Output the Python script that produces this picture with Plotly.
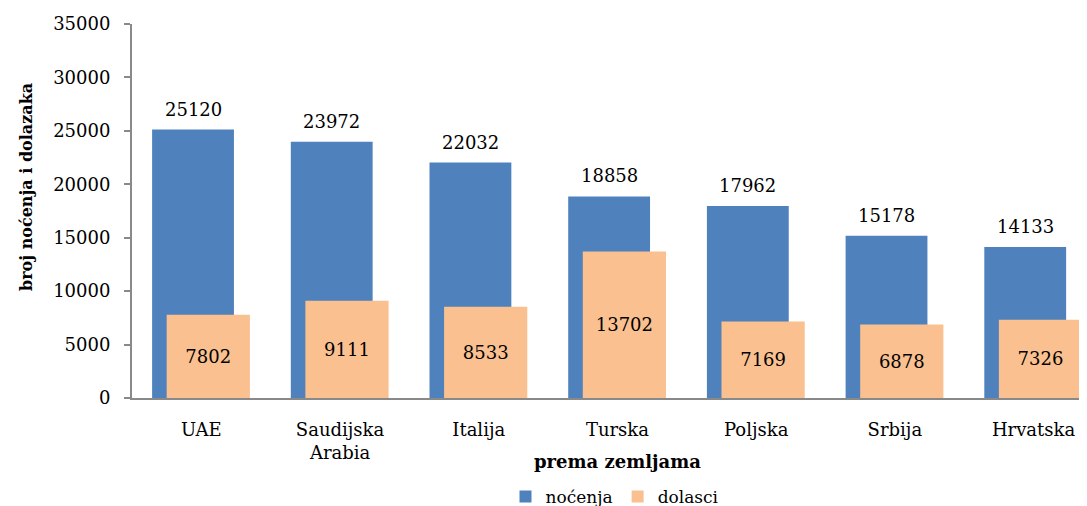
import plotly.graph_objects as go

categories = ["UAE", "Saudijska<br>Arabia", "Italija", "Turska", "Poljska", "Srbija", "Hrvatska"]
nocenja = [25120, 23972, 22032, 18858, 17962, 15178, 14133]
dolasci = [7802, 9111, 8533, 13702, 7169, 6878, 7326]
y_ticks = [0, 5000, 10000, 15000, 20000, 25000, 30000, 35000]

FONT = "DejaVu Serif"
BLUE = "#4F81BD"
ORANGE = "#FAC090"
AXIS = "#898989"

# page body has 8px default margin -> compensate
W, H = 1079, 498
L, T, B = 124, 16, 108
plot_h = H - T - B
plot_w = W - L

x = list(range(len(categories)))
blue_off, blue_w = -0.355, 0.59
or_off, or_w = -0.25, 0.6

fig = go.Figure()
fig.add_trace(go.Bar(
    x=x, y=nocenja, name="noćenja", marker=dict(color=BLUE, line=dict(width=0)),
    offset=blue_off, width=blue_w, hoverinfo="y"))
fig.add_trace(go.Bar(
    x=x, y=dolasci, name="dolasci", marker=dict(color=ORANGE, line=dict(width=0)),
    offset=or_off, width=or_w, text=[str(v) for v in dolasci],
    textposition="inside", insidetextanchor="middle",
    textfont=dict(family=FONT, size=18, color="black"), hoverinfo="y"))

annotations = []
for i, v in enumerate(nocenja):
    annotations.append(dict(
        x=i + blue_off + blue_w / 2, y=v, xref="x", yref="y", text=str(v),
        showarrow=False, yanchor="bottom", yshift=8,
        font=dict(family=FONT, size=18, color="black")))
annotations.append(dict(
    x=(len(categories) - 1) / 2, y=-63 / plot_h, xref="x", yref="paper",
    text="<b>prema zemljama</b>",
    showarrow=False, yanchor="middle", font=dict(family=FONT, size=18, color="black")))
annotations.append(dict(
    x=(18 - L) / plot_w, y=(T + plot_h - 179) / plot_h, xref="paper", yref="paper",
    text="<b>broj noćenja i dolazaka</b>", textangle=-90,
    showarrow=False, xanchor="center", yanchor="middle",
    font=dict(family=FONT, size=16, color="black")))

step = 138.7
x_max = plot_w / step - 0.5

fig.update_layout(
    width=W, height=H,
    margin=dict(l=L, r=0, t=T, b=B),
    paper_bgcolor="white", plot_bgcolor="white",
    barmode="overlay",
    font=dict(family=FONT, size=18, color="black"),
    showlegend=True,
    legend=dict(orientation="h", x=607 / W, xref="container", xanchor="center",
                y=1 - 489 / H, yref="container", yanchor="middle",
                font=dict(family=FONT, size=17, color="black"),
                itemsizing="constant", traceorder="normal"),
    annotations=annotations,
)
fig.update_xaxes(
    range=[-0.5, x_max], tickmode="array", tickvals=x, ticktext=categories,
    showline=True, linecolor=AXIS, linewidth=2, ticks="", showgrid=False,
    zeroline=False, ticklabelstandoff=14,
    tickfont=dict(family=FONT, size=18, color="black"))
fig.update_yaxes(
    range=[0, 35000], tickmode="array", tickvals=y_ticks,
    ticktext=[str(t) for t in y_ticks],
    showline=True, linecolor=AXIS, linewidth=2, ticks="outside", ticklen=6,
    tickcolor=AXIS, tickwidth=2, showgrid=False, zeroline=False,
    ticklabelstandoff=10,
    tickfont=dict(family=FONT, size=18, color="black"))

fig.write_html("out.html")
